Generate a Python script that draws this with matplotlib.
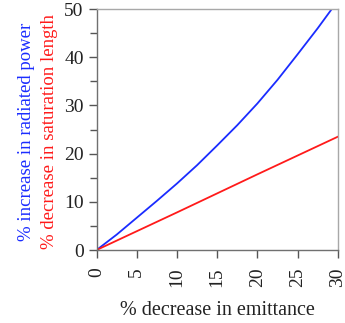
import numpy as np
import matplotlib.pyplot as plt
from matplotlib.ticker import MultipleLocator

# percent decrease in emittance
emittance_drop = [0, 2.5, 5, 7.5, 10, 12.5, 15, 17.5, 20, 22.5, 25, 27.5, 30]
# percent increase in radiated power
power_gain = [0, 3.2, 6.7, 10.2, 13.8, 17.6, 21.7, 25.9, 30.4, 35.3, 40.6, 46.0, 51.7]

red_x = [0, 5, 10, 15, 20, 25, 30]
# percent decrease in saturation length
satlen_drop = [0, 3.9, 7.8, 11.75, 15.7, 19.6, 23.5]

plt.rcParams['font.family'] = ['Liberation Serif', 'DejaVu Serif']

fig = plt.figure(figsize=(3.45, 3.23), dpi=100)
ax = fig.add_axes([0.280, 0.226, 0.699, 0.746])

ax.plot(emittance_drop, power_gain, color='#1a2cff', lw=1.3)
ax.plot(red_x, satlen_drop, color='#ff1a1a', lw=1.3)

ax.set_xlim(0, 30)
ax.set_ylim(0, 50)
ax.xaxis.set_major_locator(MultipleLocator(5))
ax.yaxis.set_major_locator(MultipleLocator(10))
ax.yaxis.set_minor_locator(MultipleLocator(5))

for side in ['left', 'bottom']:
    ax.spines[side].set_color('#707070')
    ax.spines[side].set_linewidth(1.0)
for side in ['top', 'right']:
    ax.spines[side].set_color('#a8a8a8')
    ax.spines[side].set_linewidth(1.0)

ax.tick_params(which='both', direction='out', color='#555555', width=1.0,
               labelsize=14, labelcolor='#222222')
ax.tick_params(which='major', length=5.8, pad=3.5)
ax.tick_params(which='minor', length=5.2)
ax.tick_params(axis='x', labelrotation=90, pad=6.5)

ax.set_xlabel('% decrease in emittance', fontsize=14.5, color='#222222', labelpad=10)

ax.text(-0.29, 0.49, '% increase in radiated power', transform=ax.transAxes,
        rotation=90, ha='center', va='center', fontsize=13.5, color='#1a2cff')
ax.text(-0.195, 0.49, '% decrease in saturation length', transform=ax.transAxes,
        rotation=90, ha='center', va='center', fontsize=13.5, color='#ff1a1a')

fig.savefig('out.png', dpi=100)
